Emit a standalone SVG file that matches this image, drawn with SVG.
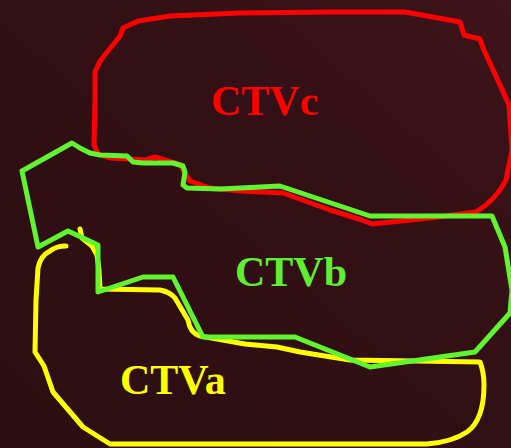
<svg xmlns="http://www.w3.org/2000/svg" width="511" height="448" viewBox="0 0 511 448">
<defs>
<linearGradient id="bg" x1="0" y1="1" x2="1" y2="0">
<stop offset="0" stop-color="#2c0e12"/>
<stop offset="0.6" stop-color="#321015"/>
<stop offset="1" stop-color="#3d141a"/>
</linearGradient>
</defs>
<style>
.c{fill:none;stroke-width:5;stroke-linejoin:round;stroke-linecap:round}
.t{font-family:"Liberation Serif","Times New Roman",serif;font-weight:bold;font-size:42px}
</style>
<rect width="511" height="448" fill="url(#bg)"/>
<g id="CTVc">
<path class="c" stroke="#ff0000" d="M123,28 L138,21 L170,16 L240,13 L330,12 L405,12 L460,22 L464,35 L480,39 L483,48 L500,85 L509,105 L512,150 L506,180 Q496,200 476,212 L430,218 L372,224 L362,220 L330,210 L283,193 L240,191 L210,188 L190,181 L184,172 L181,165 L165,160 L155,157 L145,160 L130,159 L110,158 L98,154 L94,145 L95,100 L95,72 L100,61 L120,36 Z"/>
<text class="t" x="211" y="115" fill="#ff0000">CTVc</text>
</g>
<g id="CTVa">
<path class="c" stroke="#ffff00" d="M80,229 L82,238 L92,246 L97,255 L99,270 L100,289 L160,290 Q170,292 175,298 L188,320 Q190,333 200,336 L245,344 L277,347 L300,352 L350,360 L480,362 Q484,372 484,385 Q484,420 467,432 Q452,442 427,444 L110,444 L83,427 L53,392 L44,366 L35,352 L36,300 L38,268 Q40,256 50,251 Q56,246 66,246"/>
<text class="t" x="120" y="394" fill="#ffff00">CTVa</text>
</g>
<g id="CTVb">
<path class="c" stroke="#60f52e" d="M72,143 L80,148 L90,153 L100,155 L127,156 L133,162 L143,163 L173,163 L183,166 L185,172 L183,185 L187,188 L220,189 L280,186 L370,216 L492,216 L505,247 L512,290 L510,313 L475,352 L370,367 L295,337 L203,337 L173,277 L143,277 L98,292 L98,245 L68,231 L38,247 L22,171 Z"/>
<text class="t" x="235" y="286" fill="#60ee30">CTVb</text>
</g>
</svg>
